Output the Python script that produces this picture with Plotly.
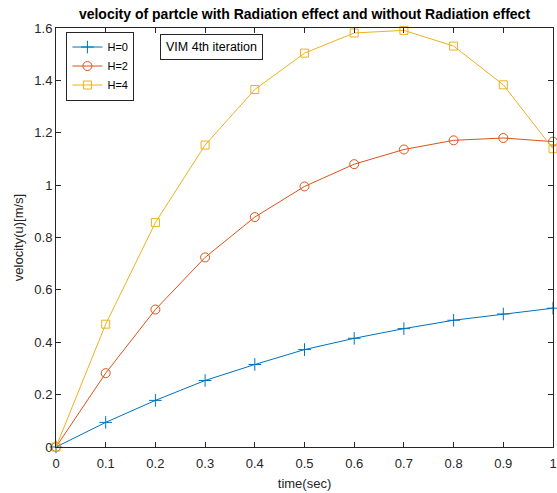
import plotly.graph_objects as go

t = [0, 0.1, 0.2, 0.3, 0.4, 0.5, 0.6, 0.7, 0.8, 0.9, 1.0]
u_h0 = [0, 0.094, 0.178, 0.254, 0.315, 0.372, 0.415, 0.452, 0.484, 0.508, 0.53]
u_h2 = [0, 0.282, 0.525, 0.724, 0.878, 0.995, 1.08, 1.136, 1.171, 1.18, 1.166]
u_h4 = [0, 0.469, 0.857, 1.153, 1.365, 1.504, 1.581, 1.591, 1.531, 1.383, 1.139]
names = ["H=0", "H=2", "H=4"]
colors = ["#0072BD", "#D95319", "#EDB120"]
symbols = ["cross-thin", "circle-open", "square-open"]
x_ticks = [0, 0.1, 0.2, 0.3, 0.4, 0.5, 0.6, 0.7, 0.8, 0.9, 1]
y_ticks = [0, 0.2, 0.4, 0.6, 0.8, 1, 1.2, 1.4, 1.6]

FONT = "Liberation Sans, Arial"

fig = go.Figure()
for ys, nm, c, s in zip([u_h0, u_h2, u_h4], names, colors, symbols):
    fig.add_trace(go.Scatter(
        x=t, y=ys, name=nm, mode="lines+markers",
        line=dict(color=c, width=1),
        marker=dict(symbol=s, size=9 if s != "square-open" else 8, color=c,
                    line=dict(color=c, width=1)),
        cliponaxis=False,
    ))

axis_common = dict(showline=True, linecolor="#262626", linewidth=1, mirror="allticks",
                   ticks="inside", ticklen=5, tickcolor="#262626", showgrid=False,
                   zeroline=False, automargin=False,
                   tickfont=dict(family=FONT, size=13, color="#262626"))
fig.update_xaxes(range=[0, 1], tickvals=x_ticks, ticktext=[f"{v:g}" for v in x_ticks],
                 ticklabelstandoff=4,
                 title=dict(text="time(sec)", font=dict(family=FONT, size=13, color="#262626"), standoff=9),
                 **axis_common)
fig.update_yaxes(range=[0, 1.6], tickvals=y_ticks, ticktext=[f"{v:g}" for v in y_ticks],
                 title=dict(text="velocity(u)[m/s]", font=dict(family=FONT, size=13, color="#262626"), standoff=7),
                 **axis_common)

fig.update_layout(
    width=557, height=493,
    margin=dict(l=56, r=4, t=28, b=46),
    paper_bgcolor="white", plot_bgcolor="white",
    title=dict(text="<b>velocity of partcle with Radiation effect and without Radiation effect</b>",
               x=0.5, xref="paper", y=0.9716, yanchor="middle",
               font=dict(family=FONT, size=14, color="black")),
    legend=dict(x=0.021, y=0.9916, xanchor="left", yanchor="top",
                bordercolor="#262626", borderwidth=1, bgcolor="white",
                font=dict(family=FONT, size=11, color="black"),
                itemwidth=30, tracegroupgap=0),
    showlegend=True,
)
fig.add_annotation(
    x=0.209, y=0.986, xref="paper", yref="paper", xanchor="left", yanchor="top",
    text="VIM 4th iteration", showarrow=False,
    font=dict(family=FONT, size=12.5, color="black"),
    bordercolor="#262626", borderwidth=1, borderpad=5, bgcolor="white",
)

fig.write_html("out.html", config={"displayModeBar": False},
               post_script="document.body.style.margin='0';document.body.style.overflow='hidden';")
